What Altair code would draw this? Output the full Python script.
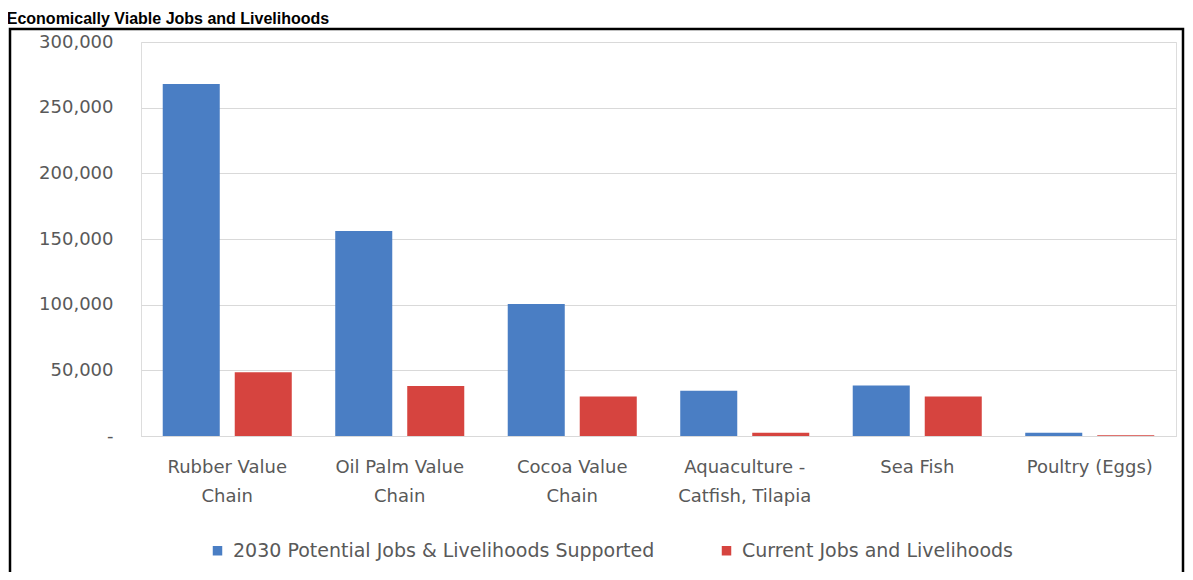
import altair as alt
import pandas as pd

categories = ["Rubber Value|Chain", "Oil Palm Value|Chain", "Cocoa Value|Chain",
              "Aquaculture -|Catfish, Tilapia", "Sea Fish", "Poultry (Eggs)"]
potential_2030 = [268000, 156000, 100500, 34500, 38500, 2500]
current_jobs = [48500, 38000, 30000, 2500, 30000, 500]
series_names = ["2030 Potential Jobs & Livelihoods Supported", "Current Jobs and Livelihoods"]
series_colors = ["#4a7ec4", "#d6443f"]
y_ticks = [0, 50000, 100000, 150000, 200000, 250000, 300000]

rows = []
for c, a, b in zip(categories, potential_2030, current_jobs):
    rows.append({"category": c, "series": series_names[0], "value": a})
    rows.append({"category": c, "series": series_names[1], "value": b})
df = pd.DataFrame(rows)

FONT = "DejaVu Sans"
GRAY = "#595959"

bars = alt.Chart(df).mark_bar().encode(
    x=alt.X("category:N", sort=categories,
            scale=alt.Scale(paddingInner=0.252, paddingOuter=0.126),
            axis=alt.Axis(title=None, labelAngle=0, ticks=False, domain=True,
                          domainColor="#d9d9d9", domainWidth=1,
                          labelExpr="split(datum.label, '|')",
                          labelLineHeight=29, labelPadding=22,
                          labelFont=FONT, labelFontSize=18, labelColor=GRAY,
                          grid=False)),
    xOffset=alt.XOffset("series:N", sort=series_names,
                        scale=alt.Scale(paddingInner=0.208, paddingOuter=0)),
    y=alt.Y("value:Q", scale=alt.Scale(domain=[0, 300000], nice=False),
            axis=alt.Axis(title=None, values=y_ticks, ticks=False, domain=False,
                          labelExpr="datum.value == 0 ? '-\u00a0\u00a0\u00a0' : format(datum.value, ',')",
                          labelPadding=28, labelFont=FONT, labelFontSize=18,
                          labelColor=GRAY, grid=True, gridColor="#d9d9d9",
                          gridWidth=1)),
    color=alt.Color("series:N", sort=series_names,
                    scale=alt.Scale(domain=series_names, range=series_colors),
                    legend=alt.Legend(title=None, orient="none", direction="horizontal",
                                      legendX=67, legendY=499,
                                      symbolType="square", symbolSize=90,
                                      symbolStrokeWidth=0, symbolOpacity=1,
                                      labelFont=FONT, labelFontSize=19,
                                      labelColor=GRAY, columnPadding=62,
                                      labelOffset=6, labelLimit=0)),
)

frame = alt.Chart(pd.DataFrame({"f": [0]})).mark_rect(
    fill=None, stroke="black", strokeWidth=2.5
).encode(
    x=alt.value(-131), x2=alt.value(1042), y=alt.value(-13), y2=alt.value(600)
)

chart = alt.layer(bars, frame).properties(
    width=1035, height=394,
    title=alt.TitleParams(
        text="Economically Viable Jobs and Livelihoods",
        anchor="start", dx=-2, offset=1, fontSize=16,
        font="Liberation Sans", fontWeight="bold", color="black"),
    autosize=alt.AutoSizeParams(type="none"),
    padding={"left": 133, "top": 34, "right": 9, "bottom": 136},
).configure_view(strokeWidth=0, stroke="transparent").configure(background="white")

chart.save("out.html", embed_options={"renderer": "svg", "actions": False})
